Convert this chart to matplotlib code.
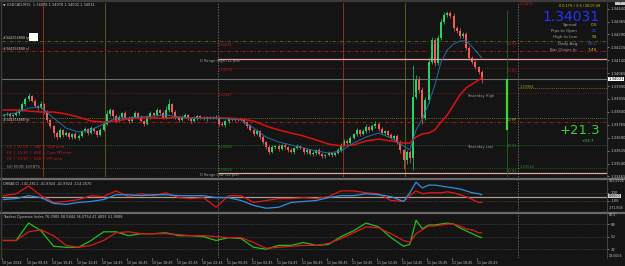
import matplotlib
matplotlib.use("Agg")
import matplotlib.pyplot as plt
from matplotlib.lines import Line2D
from matplotlib.patches import Rectangle

# USDCAD M15, first bar 10 Jan 06:45
first_open = 1.33816
closes = [
    1.33822, 1.33828, 1.33816, 1.33822, 1.33834, 1.33851, 1.33886, 1.33915, 1.33932, 1.33903,
    1.33874, 1.33862, 1.33886, 1.33839, 1.33793, 1.33758, 1.33717, 1.33694, 1.33735, 1.33706,
    1.33717, 1.33694, 1.33712, 1.33688, 1.33700, 1.33729, 1.33741, 1.33717, 1.33746, 1.33729,
    1.33706, 1.33735, 1.33770, 1.33828, 1.33851, 1.33816, 1.33787, 1.33810, 1.33834, 1.33804,
    1.33787, 1.33810, 1.33834, 1.33810, 1.33787, 1.33770, 1.33810, 1.33834, 1.33822, 1.33851,
    1.33834, 1.33804, 1.33851, 1.33886, 1.33839, 1.33804, 1.33793, 1.33810, 1.33822, 1.33804,
    1.33787, 1.33804, 1.33816, 1.33804, 1.33799, 1.33810, 1.33804, 1.33807, 1.33810, 1.33770,
    1.33764, 1.33787, 1.33799, 1.33793, 1.33799, 1.33796, 1.33793, 1.33781, 1.33758, 1.33735,
    1.33712, 1.33729, 1.33694, 1.33665, 1.33636, 1.33607, 1.33636, 1.33642, 1.33624, 1.33648,
    1.33636, 1.33619, 1.33607, 1.33630, 1.33642, 1.33630, 1.33607, 1.33619, 1.33595, 1.33601,
    1.33619, 1.33595, 1.33584, 1.33589, 1.33601, 1.33589, 1.33601, 1.33619, 1.33648, 1.33671,
    1.33659, 1.33688, 1.33712, 1.33735, 1.33712, 1.33729, 1.33752, 1.33735, 1.33758, 1.33770,
    1.33741, 1.33717, 1.33729, 1.33706, 1.33688, 1.33700, 1.33665, 1.33619, 1.33560, 1.33607,
    1.33572, 1.33926, 1.34025, 1.33967, 1.33804, 1.33909, 1.34130, 1.34258, 1.34124, 1.34269,
    1.34362, 1.34403, 1.34414, 1.34397, 1.34327, 1.34310, 1.34281, 1.34292, 1.34211, 1.34153,
    1.34130, 1.34101, 1.34072, 1.34031,
]
# wick lengths in points (0.00001)
wick_up = [
    8, 10, 6, 8, 12, 10, 14, 10, 18, 8, 10, 6, 16, 8, 10, 6, 8, 12, 14, 8,
    10, 8, 6, 10, 12, 8, 10, 6, 14, 8, 8, 10, 12, 20, 14, 8, 10, 12, 8, 10,
    10, 8, 12, 8, 10, 8, 12, 10, 8, 14, 8, 10, 22, 30, 8, 10, 8, 10, 12, 8,
    8, 10, 6, 8, 10, 6, 8, 10, 12, 8, 10, 8, 6, 8, 10, 6, 8, 12, 8, 10,
    8, 10, 8, 12, 8, 10, 14, 8, 10, 8, 10, 8, 12, 8, 10, 8, 6, 10, 8, 12,
    8, 10, 6, 8, 10, 8, 6, 10, 14, 12, 10, 12, 8, 14, 8, 10, 16, 8, 12, 18,
    8, 10, 6, 8, 10, 8, 12, 10, 8, 14, 10, 186, 30, 24, 20, 16, 24, 18, 14, 20,
    16, 18, 12, 14, 20, 12, 16, 10, 14, 12, 10, 12, 8, 10,
]
wick_dn = [
    8, 6, 10, 8, 6, 10, 8, 12, 10, 8, 8, 10, 6, 12, 10, 14, 25, 12, 8, 10,
    8, 12, 10, 8, 10, 6, 8, 10, 8, 12, 10, 8, 6, 8, 10, 12, 8, 6, 10, 8,
    10, 8, 6, 12, 8, 10, 8, 10, 12, 8, 10, 8, 6, 10, 12, 8, 10, 8, 6, 10,
    12, 8, 10, 6, 8, 10, 8, 6, 10, 14, 8, 10, 12, 8, 6, 10, 8, 10, 12, 8,
    10, 8, 12, 10, 14, 12, 8, 10, 12, 8, 10, 12, 8, 10, 6, 8, 10, 12, 8, 10,
    12, 8, 10, 12, 8, 10, 8, 6, 10, 8, 12, 10, 8, 10, 12, 8, 10, 12, 8, 10,
    10, 8, 12, 10, 8, 12, 10, 16, 52, 20, 30, 70, 12, 16, 34, 14, 16, 12, 18, 14,
    12, 10, 14, 12, 16, 10, 14, 12, 10, 14, 12, 10, 14, 23,
]

# indicator samples (bar index -> value)
ind_bars = list(range(0, 129, 4)) + list(range(130, 153, 2)) + [153]
ma_slow = [
    1.33851, 1.33851, 1.33845, 1.33839, 1.33839, 1.33828, 1.33810, 1.33787, 1.33781, 1.33787,
    1.33799, 1.33804, 1.33804, 1.33804, 1.33810, 1.33804, 1.33804, 1.33804, 1.33804, 1.33799,
    1.33787, 1.33758, 1.33735, 1.33717, 1.33700, 1.33677, 1.33653, 1.33642, 1.33648, 1.33671,
    1.33682, 1.33671, 1.33659, 1.33659, 1.33694, 1.33712, 1.33717, 1.33735, 1.33781, 1.33822,
    1.33880, 1.33938, 1.33979, 1.34002, 1.34025, 1.34037,
]
ma_fast = [
    1.33822, 1.33834, 1.33862, 1.33868, 1.33804, 1.33746, 1.33723, 1.33735, 1.33770, 1.33804,
    1.33804, 1.33810, 1.33816, 1.33822, 1.33810, 1.33804, 1.33804, 1.33804, 1.33799, 1.33793,
    1.33746, 1.33694, 1.33665, 1.33648, 1.33630, 1.33613, 1.33601, 1.33613, 1.33659, 1.33694,
    1.33717, 1.33688, 1.33642, 1.33619, 1.33735, 1.33799, 1.33886, 1.33996, 1.34130, 1.34200,
    1.34234, 1.34252, 1.34252, 1.34217, 1.34176, 1.34153,
]
cci_fast = [
    25, 75, 275, 25, -150, -125, -75, 25, 0, 150, 0, 75, 25, 100, -25, -50, -25, -275, 25, 25,
    -150, -100, -50, -50, -25, -50, 0, 150, 150, 100, 75, -100, -125, 25, 150, 75, 100, 100,
    100, 125, 100, 50, 0, -75, -150, -150,
]
cci_slow = [
    -75, -50, 25, -25, -175, -200, -150, -125, -75, 50, 50, 25, 50, 50, 25, 25, 25, -25, -25, -100,
    -225, -300, -275, -150, -125, -100, -25, 25, 25, 75, 50, 0, -125, 100, 375, 225, 300, 300,
    275, 250, 225, 200, 150, 100, 75, 50,
]
tdi_price = [
    44.5, 44.5, 69.4, 58.3, 36.2, 34.8, 34.8, 44.5, 56.9, 56.9, 51.4, 54.2, 54.2, 55.5, 51.4,
    51.4, 50.0, 44.5, 48.6, 47.2, 34.8, 32.0, 37.5, 37.5, 41.7, 37.5, 38.9, 50.0, 58.3, 69.4,
    63.9, 48.6, 36.2, 38.9, 73.5, 61.1, 66.6, 66.6, 68.0, 69.4, 68.0, 62.5, 58.3, 54.2, 50.0, 48.6,
]
tdi_signal = [
    44.5, 44.5, 56.9, 59.7, 51.4, 37.5, 34.8, 37.5, 44.5, 55.5, 56.9, 54.2, 54.2, 54.2, 52.8,
    51.4, 51.4, 50.0, 48.6, 48.6, 41.7, 33.4, 34.8, 36.2, 37.5, 37.5, 40.3, 47.2, 55.5, 63.9,
    62.5, 54.2, 44.5, 41.7, 54.2, 59.7, 65.2, 65.2, 66.6, 68.0, 68.0, 65.2, 61.1, 59.7, 55.5, 55.5,
]

time_labels = [
    "10 Jan 2024", "10 Jan 08:45", "10 Jan 10:45", "10 Jan 12:45", "10 Jan 14:45",
    "10 Jan 16:45", "10 Jan 18:45", "10 Jan 20:45", "10 Jan 22:45", "11 Jan 00:45",
    "11 Jan 02:45", "11 Jan 04:45", "11 Jan 06:45", "11 Jan 08:45", "11 Jan 10:45",
    "11 Jan 12:45", "11 Jan 14:45", "11 Jan 16:45", "11 Jan 18:45", "11 Jan 20:45",
]
day_start_bars = [69, 165]
london_bars = [13, 109]
ny_bars = [33, 129]
bid = 1.34031
levels = [1.34252, 1.34241, 1.34194, 1.34147, 1.34095, 1.33981,
          1.33947, 1.33804, 1.33781, 1.33648, 1.33514, 1.33485]
price_ticks = [1.33465 + 0.00075 * k for k in range(14)]

W, H = 625, 266
BG = "#141414"
FG = "#c4c4c4"
BULL, BEAR = "#2bd067", "#f25c5c"
XMAX = 193.1

fig = plt.figure(figsize=(6.25, 2.66), dpi=100, facecolor=BG)


def box(x0, y0, x1, y1):
    return [x0 / W, 1 - y1 / H, (x1 - x0) / W, (y1 - y0) / H]


def put(x, y, s, size=2.7, color=FG, ha="left", **kw):
    fig.text(x / W, 1 - y / H, s, fontsize=size, color=color, ha=ha, va="center", **kw)


def pane(rect):
    a = fig.add_axes(rect)
    a.set_facecolor(BG)
    for s in a.spines.values():
        s.set_visible(False)
    a.set_xlim(-0.5, XMAX)
    a.yaxis.tick_right()
    a.tick_params(axis="y", colors=FG, labelsize=2.7, length=1.5, width=0.4, pad=1)
    a.tick_params(axis="x", bottom=False, labelbottom=False)
    for d in day_start_bars:
        a.axvline(d - 0.5, color="#8a8a8a", lw=0.5, dashes=(2, 2))
    return a


ax = pane(box(2, 3, 607, 177))
ax_cci = pane(box(2, 180, 607, 211))
ax_tdi = pane(box(2, 214, 607, 258))

# ---- main pane ----
ax.set_ylim(1.334616, 1.344726)
ax.set_yticks(price_ticks)
ax.set_yticklabels([f"{p:.5f}" for p in price_ticks])

for b in london_bars:
    ax.axvline(b - 0.5, color="#9c3a14", lw=0.6)
for b in ny_bars:
    ax.axvline(b - 0.5, color="#6e6016", lw=0.6)

day2 = day_start_bars[0] - 0.5
day3 = day_start_bars[1] - 0.5
lvl_style = [
    dict(color="#2f7d2f", dashes=(4, 2, 1, 2), x0=-0.5),
    dict(color="#7a1515", dashes=(1, 1.5), x0=-0.5),
    dict(color="#b51c1c", dashes=(4, 2, 1, 2), x0=-0.5),
    dict(color="#e8a4a0", dashes=(), x0=day2, lw=0.9),
    dict(color="#8a1a1a", dashes=(1, 1.5), x0=day2),
    dict(color="#8a8a20", dashes=(1, 1.5), x0=day3),
    dict(color="#7a1a1a", dashes=(1, 1.5), x0=-0.5),
    dict(color="#8c8a2a", dashes=(1, 1.5), x0=-0.5),
    dict(color="#b51c1c", dashes=(4, 2, 1, 2), x0=-0.5),
    dict(color="#2a6a2a", dashes=(1, 1.5), x0=-0.5),
    dict(color="#2a6a2a", dashes=(1, 1.5), x0=-0.5),
    dict(color="#e8a4a0", dashes=(), x0=day2, lw=0.9),
]
for lv, st in zip(levels, lvl_style):
    ax.hlines(lv, st["x0"], XMAX, color=st["color"], lw=st.get("lw", 0.6),
              linestyles=(0, st["dashes"]) if st["dashes"] else "solid")
ax.axhline(bid, color="#6e6e6e", lw=0.8)

# candles
xs = list(range(len(closes)))
opens = [first_open] + closes[:-1]
highs = [max(o, c) + u / 1e5 for o, c, u in zip(opens, closes, wick_up)]
lows = [min(o, c) - d / 1e5 for o, c, d in zip(opens, closes, wick_dn)]
cols = [BULL if c >= o else BEAR for o, c in zip(opens, closes)]
ax.vlines(xs, lows, highs, colors=cols, lw=0.5)
ax.bar(xs, [max(abs(c - o), 0.00002) for o, c in zip(opens, closes)],
       bottom=[min(o, c) for o, c in zip(opens, closes)], width=0.62, color=cols, lw=0)

ax.plot(ind_bars, ma_slow, color="#e01010", lw=1.1)
ax.plot(ind_bars, ma_fast, color="#1f6fa5", lw=0.7)

# pips gauge at the right
gauge_bar = 161
ax.vlines(gauge_bar, 1.33461, 1.34432, color="#1d6b1d", lw=0.6)
ax.vlines(gauge_bar, 1.33735, bid, color="#33dd33", lw=1.6)

# ---- CCI pane ----
ax_cci.set_ylim(-371.8, 431.59)
ax_cci.set_yticks([100, -100])
ax_cci.set_yticklabels(["100", "-100"])
for v in (100, -100):
    ax_cci.axhline(v, color="#555555", lw=0.5, dashes=(1, 1.5))
ax_cci.axhline(0, color="#b09a8a", lw=0.9)
ax_cci.plot(ind_bars, cci_fast, color="#e01818", lw=0.9)
ax_cci.plot(ind_bars, cci_slow, color="#2f8fe0", lw=0.9)

# ---- TDI pane ----
ax_tdi.set_ylim(19.5, 82.3)
ax_tdi.set_yticks([68, 50, 32])
ax_tdi.set_yticklabels(["68", "50", "32"])
for v in (68, 50, 32):
    ax_tdi.axhline(v, color="#555555", lw=0.5, dashes=(1, 1.5))
ax_tdi.plot(ind_bars, tdi_price, color="#1fc01f", lw=0.9)
ax_tdi.plot(ind_bars, tdi_signal, color="#e01818", lw=0.9)
ax_tdi.set_xticks([8 * k - 0.5 for k in range(len(time_labels))])
ax_tdi.set_xticklabels(time_labels, ha="left")
ax_tdi.tick_params(axis="x", bottom=True, labelbottom=True, colors=FG,
                   labelsize=2.3, length=1.5, width=0.4, pad=1)

# ---- frame lines ----
for y, c, w in [(1, "#3c3c3c", 1.6), (178.5, "#6a6a6a", 1.6), (212.5, "#6a6a6a", 1.6)]:
    fig.add_artist(Line2D([0, 1], [1 - y / H, 1 - y / H], transform=fig.transFigure, color=c, lw=w))
fig.add_artist(Line2D([607 / W, 607 / W], [1 - 258 / H, 1 - 3 / H], transform=fig.transFigure,
                      color="#555555", lw=0.5))
fig.add_artist(Line2D([1 / W, 1 / W], [1 - 258 / H, 1], transform=fig.transFigure,
                      color="#3c3c3c", lw=1))

# ---- texts ----
put(3, 5, "\u25bc USDCAD,M15  1.34078 1.34078 1.34002 1.34031", size=2.5)
put(3, 38, "#344254888 tp", size=2.4)
fig.add_artist(Rectangle((29 / W, 1 - 41 / H), 9 / W, 8 / H, transform=fig.transFigure,
                         facecolor="white", edgecolor="none"))
put(3, 49, "#344254888 sl", size=2.4)
put(3, 120, "#344254888 tp", size=2.4)
for y, s in [(147, "FX  |  07:00  |  GBP  |  GDP m/m"), (153, "FX  |  13:30  |  USD  |  Core PPI m/m"),
             (159, "FX  |  13:30  |  USD  |  PPI m/m")]:
    put(7, y, s, size=2.6, color="#d01818")
put(7, 167, "NO MORE EVENTS", size=2.6, color="#8a8a8a")

put(200, 61, "D Range High (11 pts)", size=2.6, color="#a0a0a0")
put(200, 175, "D Range Low (54 pts)", size=2.6, color="#a0a0a0")
put(218, 45, "1.34241", size=2.6, color="#c01818")
put(218, 70, "1.34095", size=2.6, color="#c01818")
put(218, 95, "1.33947", size=2.6, color="#c01818")
put(218, 147, "1.33648", size=2.6, color="#2a8a2a")
put(218, 170, "1.33514", size=2.6, color="#2a8a2a")
put(467, 96, "Yesterday High", size=2.6, color="#9a9a9a")
put(467, 147, "Yesterday Low", size=2.6, color="#9a9a9a")
for y, s, c in [(44, "D R2", "#c01818"), (71, "D R1", "#c01818"), (120, "D PP", "#b8b020"),
                (146, "D S1", "#2a8a2a"), (171, "D S2", "#2a8a2a")]:
    put(508, y, s, size=2.6, color=c)
put(519, 4, "1.34479", size=2.6, color="#c01818")
put(520, 87, "1.33981", size=2.6, color="#a8a020")
put(520, 167, "1.33534", size=2.6, color="#2a8a2a")

put(600, 6, "0.0.17% / 0.5 / 00:07:49", size=2.4, color="#d8c020", ha="right")
put(600, 17, "1.34031", size=10, color="#2233ff", ha="right")
rows = [("Spread", "0.5", "#d8c020"), ("Pips to Open", "21", "#3a50ff"),
        ("High to Low", "94", "#d8c020"), ("Daily Avg", "60.1", "#3a50ff"),
        ("Bar Closes In", "7:49", "#d8c020")]
for k, (lab, val, c) in enumerate(rows):
    y = 25 + 6.2 * k
    put(577, y, lab, size=3.0, color="#a0a0a0", ha="right")
    put(597, y, val, size=3.0, color=c, ha="right")
put(580, 130, "+21.3", size=9.5, color="#3ccf3c", ha="center")
put(588, 141, "+33.7", size=3.0, color="#3ccf3c", ha="center")
fig.add_artist(Rectangle((615 / W, 1 - 5 / H), 10 / W, 3 / H, transform=fig.transFigure,
                         facecolor="#c8c8c8", edgecolor="none"))
put(620, 3.5, "F", size=2, color="#333333", ha="center")

put(608.5, 79, "1.34031", size=2.7, color="black",
    bbox=dict(facecolor="white", edgecolor="none", pad=0.3))
put(3, 184, "DRBACCI -141.2811 -41.8924 -41.8924 -114.2570", size=2.5)
put(3, 217, "Traders Dynamic Index 76.0905 58.5844 36.0754 47.4891 51.9088", size=2.5)
put(608.5, 181, "431.5904", size=2.3)
put(608.5, 196, "0.0000", size=2.3, color="black",
    bbox=dict(facecolor="#d0d0d0", edgecolor="none", pad=0.3))
put(608.5, 208, "-371.804", size=2.3)
put(608.5, 215, "82.3", size=2.3)
put(608.5, 256, "19.5006", size=2.3)

fig.savefig("out.png", dpi=100, facecolor=BG)
